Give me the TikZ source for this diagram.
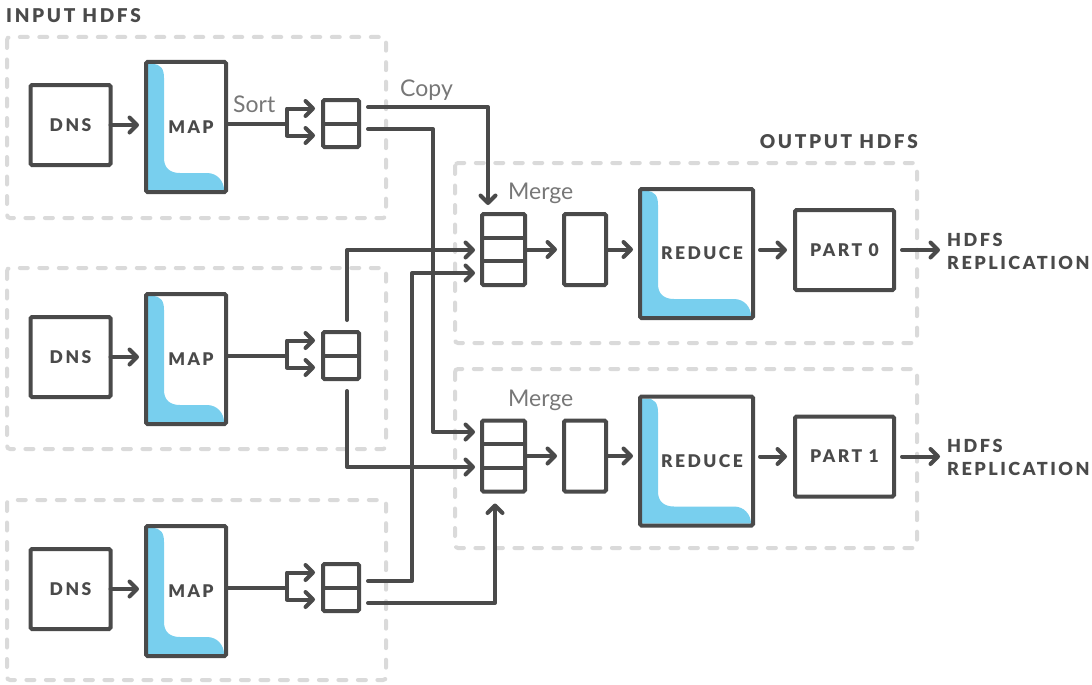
\documentclass[tikz,border=0pt]{standalone}
\usepackage{fontspec}
\setmainfont{Lato}
\newfontfamily\lblfont[LetterSpace=14]{Lato Black}
\usetikzlibrary{arrows.meta,calc,backgrounds}
\definecolor{dk}{HTML}{4A4A4A}
\definecolor{dsh}{HTML}{DADADA}
\definecolor{blu}{HTML}{78CFEE}
\definecolor{txg}{HTML}{777777}
\newcommand\bluL[1]{%
  \path[fill=blu] let \p1=($(#1.north west)+(2,2)$), \p2=($(#1.south east)+(-2,-2)$) in
   (\x1,\y1) -- ({\x1+4pt},\y1) .. controls ({\x1+13pt},\y1) and ({\x1+16pt},{\y1-5pt}) .. ({\x1+16pt},{\y1-14pt})
   -- ({\x1+16pt},{\y2+32pt}) .. controls ({\x1+16pt},{\y2+22pt}) and ({\x1+22pt},{\y2+17pt}) .. ({\x1+32pt},{\y2+17pt})
   -- ({\x2-17pt},{\y2+17pt}) .. controls ({\x2-7pt},{\y2+17pt}) and (\x2,{\y2+9pt}) .. (\x2,\y2)
   -- (\x1,\y2) -- cycle;}
\begin{document}
\begin{tikzpicture}[x=1pt,y=-1pt,
  box/.style={draw=dk,line width=4pt,rounded corners=1.5pt,inner sep=0pt,outer sep=0pt,text=dk,
    font=\lblfont\fontsize{17.5}{20}\selectfont},
  ln/.style={draw=dk,line width=4pt,line cap=round,line join=round},
  arr/.style={-{Straight Barb[length=7.5pt,width=15pt,round]},shorten >=7pt},
  grp/.style={draw=dsh,line width=4pt,dash pattern=on 8pt off 11.5pt,line cap=round,rounded corners=3pt},
  hdr/.style={inner sep=0pt,text=dk,font=\lblfont\fontsize{19}{22}\selectfont},
  gtxt/.style={inner sep=0pt,text=txg,font=\fontsize{23}{26}\selectfont},
  rep/.style={inner sep=0pt,text=dk,align=left,font=\lblfont\fontsize{18}{23}\selectfont}]
\useasboundingbox (0,0) rectangle (1092,685);

% groups
\draw[grp] (7,37) rectangle (386,218);
\draw[grp] (7,268) rectangle (386,449);
\draw[grp] (7,500) rectangle (386,680);
\draw[grp] (455,163) rectangle (917,343);
\draw[grp] (455,369) rectangle (917,548);

\node[hdr,anchor=base west] (inhdr) at (6,23) {INPUT HDFS};
\node[hdr,anchor=base east] (outhdr) at (918,148) {OUTPUT HDFS};

% input rows
\foreach \i/\r in {1/125,2/357,3/589}{
  \node[box,minimum width=80pt,minimum height=80pt] (d\i) at (70.5,\r) {DNS};
  \node[box,minimum width=80pt,minimum height=130pt] (m\i) at (186,\r+2) {\hspace*{10pt}MAP};
  \node[box,minimum width=36pt,minimum height=47pt] (s\i) at (341,\r-1.5) {};
  \draw[ln] (s\i.west) -- (s\i.east);
  \coordinate (b\i) at ($(s\i.west)+(-36,0)$);
  \draw[ln,arr] (d\i.east) -- (d\i.east -| m\i.west);
  \draw[ln] (m\i.east |- b\i) -- (b\i);
  \draw[ln,arr,shorten >=8pt] (b\i) |- ($(s\i.west)+(0,-15)$);
  \draw[ln,arr,shorten >=8pt] (b\i) |- ($(s\i.west)+(0,12)$);
  \begin{scope}[on background layer]\bluL{m\i}\end{scope}
}

\node[gtxt,anchor=base west] (sort) at (233,112.5) {Sort};
\node[gtxt,anchor=base west] (copy) at (400,96) {Copy};

% output rows
\foreach \i/\r/\q in {1/249.5/253.5,2/456/461}{
  \node[box,minimum width=43pt,minimum height=71pt] (mg\i) at (503.5,\r) {};
  \draw[ln] ($(mg\i.north west)!1/3!(mg\i.south west)$) -- ($(mg\i.north east)!1/3!(mg\i.south east)$);
  \draw[ln] ($(mg\i.north west)!2/3!(mg\i.south west)$) -- ($(mg\i.north east)!2/3!(mg\i.south east)$);
  \node[box,minimum width=42pt,minimum height=71pt] (md\i) at (585,\r) {};
  \node[box,minimum width=113pt,minimum height=129pt] (rd\i) at (696.5,\q) {\hspace*{11pt}REDUCE};
  \node[box,minimum width=99pt,minimum height=80pt] (pt\i) at (844.5,\r+0.5) {PART \the\numexpr\i-1\relax};
  \node[rep,anchor=west] (rep\i) at (947,\r+1.5) {HDFS\\REPLICATION};
  \node[gtxt,anchor=base west] (mlab\i) at (508,\r-50) {Merge};
  \draw[ln,arr] (mg\i.east) -- (md\i.west);
  \draw[ln,arr] (md\i.east) -- (md\i.east -| rd\i.west);
  \draw[ln,arr,shorten <=7pt,shorten >=8pt] (rd\i.east |- pt\i.west) -- (pt\i.west);
  \draw[ln,arr,shorten <=8pt] (pt\i.east) -- (pt\i.east -| rep\i.west);
  \begin{scope}[on background layer]\bluL{rd\i}\end{scope}
}

% shuffle connectors
\draw[ln,arr,shorten >=9pt] ($(s1.east)+(9,-16.5)$) -| ($(mg1.north west)+(6,0)$);
\draw[ln,arr] ($(s1.east)+(9,5.5)$) -| ($(mg2.west)+(-49,-24)$) -- ($(mg2.west)+(0,-24)$);
\draw[ln,arr] ($(s2.north)+(6,-12)$) |- ($(mg1.west)+(0,0.5)$);
\draw[ln,arr] ($(s2.south)+(6,12)$) |- ($(mg2.west)+(0,11)$);
\draw[ln,arr] ($(s3.east)+(9,-6.5)$) -| ($(mg1.west)+(-70,23.5)$) -- ($(mg1.west)+(0,23.5)$);
\draw[ln,arr,shorten >=12pt] ($(s3.east)+(9,15.5)$) -| ($(mg2.south)+(-8.5,0)$);
\end{tikzpicture}
\end{document}
